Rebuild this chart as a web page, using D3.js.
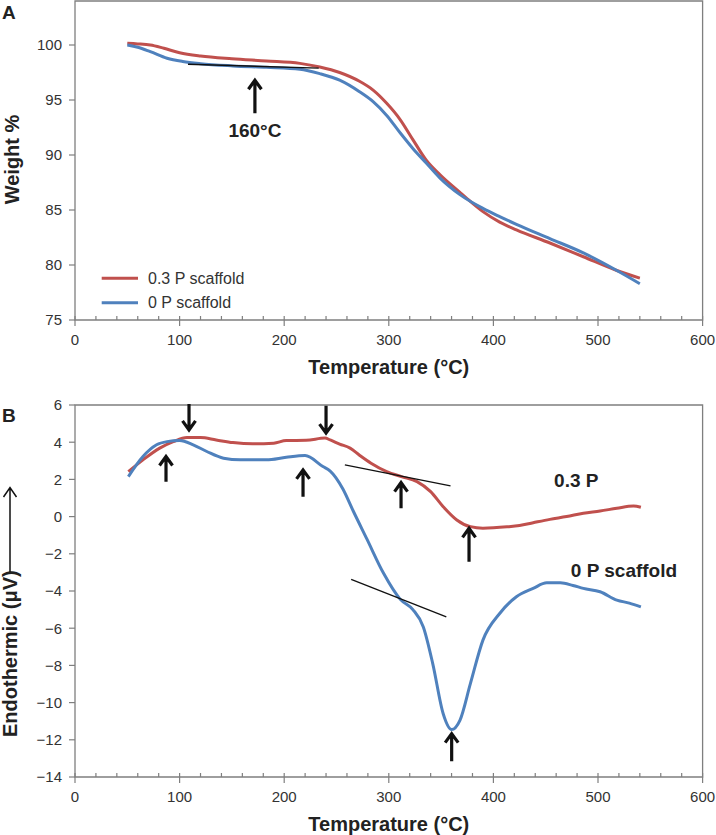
<!DOCTYPE html>
<html><head><meta charset="utf-8">
<script src="https://cdn.jsdelivr.net/npm/d3@7"></script>
<style>
body{margin:0;background:#fff}
svg{display:block}
text{font-family:"Liberation Sans",Arial,Helvetica,sans-serif}
</style>
</head><body>
<svg id="chart" width="716" height="835"></svg>
<script>
// ---------- DATA ----------
const xTickValues = [0, 100, 200, 300, 400, 500, 600];
const xMinorStep = 20;
const tgaTickValues = [75, 80, 85, 90, 95, 100];
const dtaTickValues = [-14, -12, -10, -8, -6, -4, -2, 0, 2, 4, 6];

const seriesNames = ["0.3 P scaffold", "0 P scaffold"];
const seriesColors = ["#c0504d", "#4f81bd"];

// Panel A – TGA (weight %)
const tgaTemp03 = [50, 60, 72, 85, 100, 120, 150, 183, 215, 234, 253, 272, 285, 298, 311, 323, 336, 349, 368, 374, 390, 406, 422, 454, 486, 518, 540];
const tgaW03    = [100.15, 100.1, 100.0, 99.7, 99.3, 99.0, 98.75, 98.55, 98.33, 98.0, 97.5, 96.7, 95.9, 94.7, 93.2, 91.4, 89.5, 88.2, 86.6, 86.1, 84.85, 83.9, 83.2, 82.0, 80.75, 79.5, 78.8];
const tgaTemp0  = [50, 60, 72, 88, 103, 120, 151, 183, 215, 234, 253, 272, 285, 298, 311, 323, 336, 349, 368, 390, 406, 422, 454, 486, 518, 540];
const tgaW0     = [100.0, 99.8, 99.4, 98.8, 98.5, 98.3, 98.1, 97.97, 97.8, 97.4, 96.8, 95.75, 94.85, 93.6, 92.0, 90.6, 89.25, 87.9, 86.4, 85.15, 84.4, 83.7, 82.4, 81.1, 79.5, 78.3];

// Panel B – DTA (µV)
const dtaTemp03 = [51, 65, 81, 94, 107, 120, 135, 151, 170, 190, 202, 221, 239, 244, 253, 263, 272, 283, 298, 312, 327, 340, 352, 365, 378, 390, 413, 425, 438, 454, 470, 486, 502, 518, 534, 541];
const dtaV03    = [2.42, 3.05, 3.68, 4.03, 4.25, 4.25, 4.12, 3.98, 3.91, 3.95, 4.09, 4.1, 4.22, 4.12, 3.9, 3.68, 3.3, 2.87, 2.42, 2.15, 1.88, 1.34, 0.53, -0.18, -0.54, -0.62, -0.55, -0.48, -0.33, -0.15, 0.0, 0.18, 0.3, 0.45, 0.57, 0.5];
const dtaTemp0  = [51, 65, 78, 88, 100, 113, 126, 142, 158, 183, 202, 220, 237, 244, 256, 266, 279, 295, 311, 323, 333, 342, 352, 360, 368, 378, 390, 406, 422, 438, 451, 464, 476, 486, 502, 518, 530, 541];
const dtaV0     = [2.15, 3.23, 3.86, 4.03, 4.09, 3.86, 3.5, 3.14, 3.05, 3.05, 3.19, 3.28, 2.69, 2.45, 1.5, 0.3, -1.2, -3.05, -4.45, -5.0, -5.93, -7.9, -10.6, -11.45, -10.95, -8.98, -6.64, -5.21, -4.31, -3.86, -3.56, -3.56, -3.7, -3.86, -4.04, -4.49, -4.65, -4.85];

// Annotations (data units)
const tgaTangentT = [108, 233];
const tgaTangentW = [98.25, 97.9];
const tgaArrowT = [172];
const tgaArrowTip = [96.8];
const tgaArrowTail = [93.8];
const tgaLabel = "160°C";
const tgaLabelT = 172;
const tgaLabelW = 91.6;

const dtaTangent03T = [258, 359];
const dtaTangent03V = [2.78, 1.65];
const dtaTangent0T  = [264, 355];
const dtaTangent0V  = [-3.38, -5.39];

const dtaArrowT    = [109, 240, 87, 218, 311.7, 376.7, 360.1];
const dtaArrowTip  = [4.66, 4.49, 3.23, 2.51, 1.83, -0.63, -11.67];
const dtaArrowTail = [6.06, 5.96, 1.88, 1.07, 0.45, -2.43, -13.15];

const dtaLabels  = ["0.3 P", "0 P scaffold"];
const dtaLabelT  = [458, 474];
const dtaLabelV  = [1.61, -3.24];

// ---------- LAYOUT ----------
const svg = d3.select("#chart");
const left = 75, right = 702.6;
const x = d3.scaleLinear().domain([0, 600]).range([left, right]);
const yA = d3.scaleLinear().domain([75, 104]).range([320, 1]);
const yB = d3.scaleLinear().domain([-14, 6]).range([777, 405]);

const axisColor = "#7f7f7f";
const labelColor = "#333";

function drawFrame(y, yTicks) {
  const [y0, y1] = y.range(); // bottom, top
  const g = svg.append("g");
  g.append("path")
    .attr("d", `M${left},${y0}V${y1}H${right}V${y0}Z`)
    .attr("fill", "none").attr("stroke", axisColor).attr("stroke-width", 1.3);
  const minor = d3.range(0, 601, xMinorStep);
  minor.forEach(v => {
    const major = xTickValues.includes(v);
    g.append("line")
      .attr("x1", x(v)).attr("x2", x(v))
      .attr("y1", y0 - 4).attr("y2", major ? y0 + 6 : y0)
      .attr("stroke", axisColor).attr("stroke-width", 1.2);
  });
  xTickValues.forEach(v => {
    g.append("text").attr("x", x(v)).attr("y", y0 + 24.5)
      .attr("text-anchor", "middle").attr("font-size", 15).attr("fill", labelColor)
      .text(v);
  });
  yTicks.forEach(v => {
    g.append("line").attr("x1", left - 6).attr("x2", left)
      .attr("y1", y(v)).attr("y2", y(v))
      .attr("stroke", axisColor).attr("stroke-width", 1.2);
    g.append("text").attr("x", left - 13).attr("y", y(v)).attr("dy", "0.36em")
      .attr("text-anchor", "end").attr("font-size", 15).attr("fill", labelColor)
      .text(v < 0 ? "\u2212" + Math.abs(v) : v);
  });
  g.append("text").attr("x", (left + right) / 2).attr("y", y0 + 54)
    .attr("text-anchor", "middle").attr("font-size", 20).attr("font-weight", "bold")
    .attr("fill", "#222").text("Temperature (°C)");
}

function drawLine(y, ts, vs, color, w) {
  const pts = ts.map((t, i) => [t, vs[i]]);
  svg.append("path").datum(pts)
    .attr("d", d3.line().x(d => x(d[0])).y(d => y(d[1])).curve(d3.curveMonotoneX))
    .attr("fill", "none").attr("stroke", color).attr("stroke-width", w)
    .attr("stroke-linejoin", "round").attr("stroke-linecap", "butt");
}

function drawArrow(px, tipY, tailY) {
  const dir = tipY < tailY ? 1 : -1;
  const hw = 6.5, hl = 9;
  svg.append("path")
    .attr("d", `M${px},${tailY}L${px},${tipY + dir * 1}M${px - hw},${tipY + dir * hl}L${px},${tipY}L${px + hw},${tipY + dir * hl}`)
    .attr("fill", "none").attr("stroke", "#111").attr("stroke-width", 3.2)
    .attr("stroke-linejoin", "miter").attr("stroke-linecap", "butt");
}

// ---------- PANEL A ----------
drawFrame(yA, tgaTickValues);
svg.append("text").attr("x", 2).attr("y", 19).attr("font-size", 19).attr("font-weight", "bold").attr("fill", "#222").text("A");
svg.append("text").attr("transform", `translate(18.5,${(yA(100) + yA(75)) / 2 - 23}) rotate(-90)`)
  .attr("text-anchor", "middle").attr("font-size", 20).attr("font-weight", "bold").attr("fill", "#222").text("Weight %");

drawLine(yA, tgaTemp03, tgaW03, seriesColors[0], 3);
drawLine(yA, tgaTemp0, tgaW0, seriesColors[1], 3);

svg.append("line")
  .attr("x1", x(tgaTangentT[0])).attr("y1", yA(tgaTangentW[0]))
  .attr("x2", x(tgaTangentT[1])).attr("y2", yA(tgaTangentW[1]))
  .attr("stroke", "#111").attr("stroke-width", 1.4);
tgaArrowT.forEach((t, i) => drawArrow(x(t), yA(tgaArrowTip[i]), yA(tgaArrowTail[i])));
svg.append("text").attr("x", x(tgaLabelT)).attr("y", yA(tgaLabelW))
  .attr("text-anchor", "middle").attr("font-size", 19).attr("font-weight", "bold").attr("fill", "#222").text(tgaLabel);

const legendY = [278.3, 302.7];
seriesNames.forEach((n, i) => {
  svg.append("line").attr("x1", 101.7).attr("x2", 138).attr("y1", legendY[i]).attr("y2", legendY[i])
    .attr("stroke", seriesColors[i]).attr("stroke-width", 3);
  svg.append("text").attr("x", 148).attr("y", legendY[i]).attr("dy", "0.35em")
    .attr("font-size", 16).attr("fill", labelColor).text(n);
});

// ---------- PANEL B ----------
drawFrame(yB, dtaTickValues);
svg.append("text").attr("x", 2).attr("y", 422).attr("font-size", 19).attr("font-weight", "bold").attr("fill", "#222").text("B");
svg.append("text").attr("transform", `translate(17,737) rotate(-90)`)
  .attr("text-anchor", "start").attr("font-size", 20).attr("font-weight", "bold").attr("fill", "#222").text("Endothermic (μV)");
svg.append("path")
  .attr("d", "M10,572V487.5M3.5,497L10,487.5L16.5,497")
  .attr("fill", "none").attr("stroke", "#111").attr("stroke-width", 1.5);

drawLine(yB, dtaTemp03, dtaV03, seriesColors[0], 3);
drawLine(yB, dtaTemp0, dtaV0, seriesColors[1], 3);

svg.append("line")
  .attr("x1", x(dtaTangent03T[0])).attr("y1", yB(dtaTangent03V[0]))
  .attr("x2", x(dtaTangent03T[1])).attr("y2", yB(dtaTangent03V[1]))
  .attr("stroke", "#111").attr("stroke-width", 1.3);
svg.append("line")
  .attr("x1", x(dtaTangent0T[0])).attr("y1", yB(dtaTangent0V[0]))
  .attr("x2", x(dtaTangent0T[1])).attr("y2", yB(dtaTangent0V[1]))
  .attr("stroke", "#111").attr("stroke-width", 1.3);

dtaArrowT.forEach((t, i) => drawArrow(x(t), yB(dtaArrowTip[i]), yB(dtaArrowTail[i])));
dtaLabels.forEach((l, i) => {
  svg.append("text").attr("x", x(dtaLabelT[i])).attr("y", yB(dtaLabelV[i]))
    .attr("font-size", 19).attr("font-weight", "bold").attr("fill", "#222").text(l);
});
</script>
</body></html>
